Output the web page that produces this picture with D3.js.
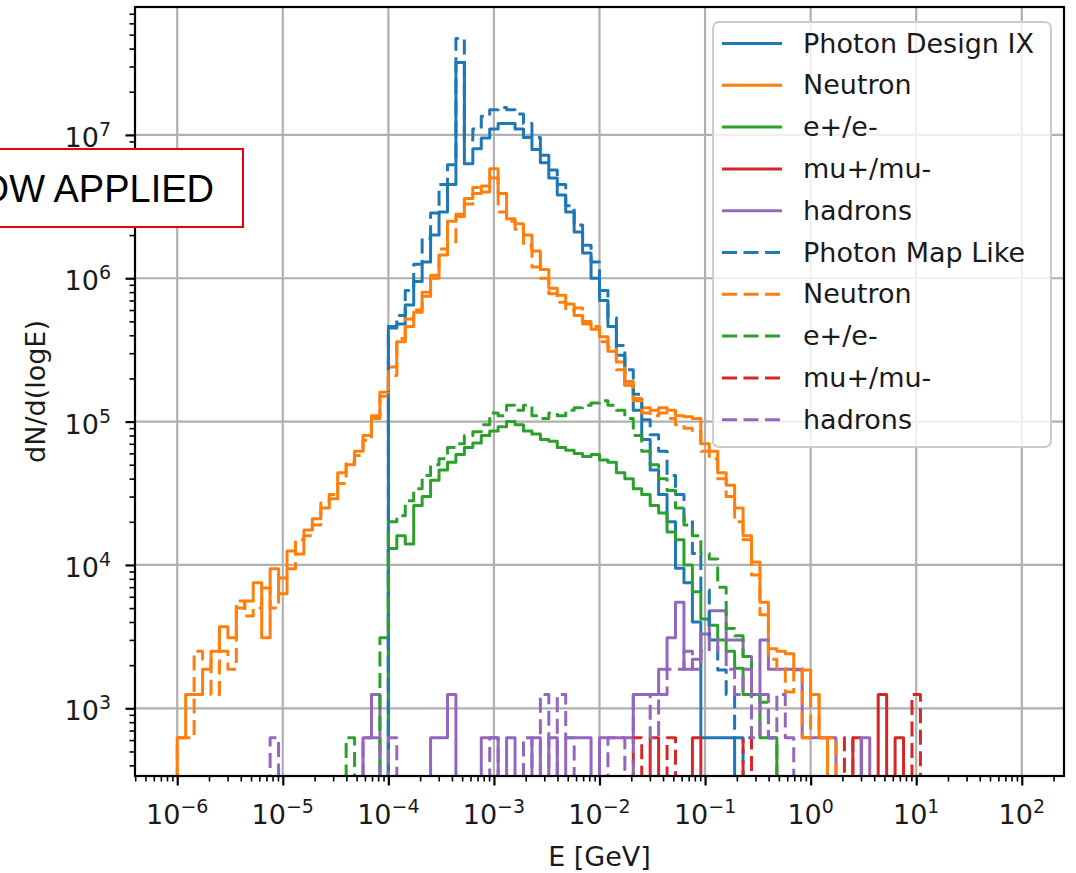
<!DOCTYPE html>
<html><head><meta charset="utf-8">
<script src="https://cdn.jsdelivr.net/npm/d3@7"></script>
<style>
html,body{margin:0;padding:0;background:#fff;}
svg{display:block;font-family:"DejaVu Sans",sans-serif;}
</style></head><body>
<svg id="chart" width="1076" height="873"></svg>
<script>
// Histogram binning: log-spaced bins in E [GeV]
const binLogMin = -6, binLogMax = 2, binCount = 100;

const xTickExponents = [-6, -5, -4, -3, -2, -1, 0, 1, 2];
const yTickExponents = [3, 4, 5, 6, 7];

// Dense series: first bin index + dN/d(logE) per bin
const photonIXStart = 25;
const photonIX = [4.6e5, 4.8e5, 6.5e5, 9.5e5, 1.3e6, 2.0e6, 2.9e6, 4.5e6, 3.2e7, 6.3e6,
  8.0e6, 9.5e6, 1.1e7, 1.2e7, 1.2e7, 1.1e7, 9.6e6, 7.9e6, 6.4e6, 5.0e6,
  3.8e6, 2.9e6, 2.1e6, 1.5e6, 1.0e6, 7.0e5, 4.6e5, 2.9e5, 1.8e5, 1.2e5,
  7.5e4, 4.6e4, 3.1e4, 2.0e4, 9.5e3, 7.5e3, 4.0e3, 624, 624, 624, 624];

const photonMapStart = 25;
const photonMap = [4.5e5, 5.5e5, 8.2e5, 1.25e6, 1.9e6, 2.85e6, 4.5e6, 6.2e6, 4.7e7, 9.2e6,
  1.1e7, 1.35e7, 1.5e7, 1.55e7, 1.5e7, 1.4e7, 1.2e7, 9.6e6, 7.2e6, 5.7e6,
  4.5e6, 3.2e6, 2.35e6, 1.7e6, 1.3e6, 8.2e5, 5.3e5, 3.4e5, 2.3e5, 1.55e5,
  1.03e5, 8.1e4, 6.2e4, 4.2e4, 3.1e4, 2.05e4, 1.2e4, 6.7e3, 3.0e3, 1.85e3,
  1.25e3, 624];

const neutronIXStart = 0;
const neutronIX = [624, 1250, 1250, 1870, 2500, 3700, 3100, 5000, 5600, 7500,
  3100, 9400, 6300, 12500, 11900, 17500, 21000, 25000, 29000, 44000,
  50000, 62000, 80000, 110000, 160000, 2.4e5, 3.6e5, 4.6e5, 5.8e5, 8.0e5,
  1.05e6, 1.45e6, 2.5e6, 2.8e6, 3.6e6, 3.9e6, 4.4e6, 5.8e6, 3.9e6, 2.6e6,
  2.4e6, 2.0e6, 1.55e6, 1.15e6, 8.5e5, 7.6e5, 6.6e5, 5.5e5, 5.0e5, 4.4e5,
  3.9e5, 3.1e5, 2.6e5, 1.8e5, 1.45e5, 1.25e5, 1.2e5, 1.25e5, 1.2e5, 1.1e5,
  1.08e5, 1.05e5, 7.0e4, 6.2e4, 4.4e4, 3.6e4, 2.5e4, 1.6e4, 1.05e4, 5.5e3,
  2.6e3, 2.5e3, 2.4e3, 1.85e3, 1.85e3, 1.25e3, 624];

const neutronMapStart = 0;
const neutronMap = [624, 624, 2500, 2200, 1250, 2500, 1870, 5600, 4400, 5000,
  6900, 5000, 8100, 9400, 15000, 16000, 19000, 27000, 31000, 37000,
  52000, 58000, 74000, 105000, 150000, 2.1e5, 3.8e5, 5.2e5, 6.0e5, 7.5e5,
  1.0e6, 1.6e6, 1.8e6, 2.7e6, 3.3e6, 4.3e6, 4.0e6, 5.0e6, 2.9e6, 2.5e6,
  2.2e6, 1.7e6, 1.2e6, 1.0e6, 7.8e5, 6.8e5, 6.0e5, 6.2e5, 4.8e5, 4.6e5,
  3.6e5, 3.3e5, 2.3e5, 1.9e5, 1.4e5, 1.15e5, 1.1e5, 1.15e5, 1.05e5, 9.5e4,
  9.0e4, 8.5e4, 6.2e4, 5.5e4, 4.0e4, 3.0e4, 2.0e4, 1.5e4, 8.5e3, 4.5e3,
  2.2e3, 1.9e3, 1.3e3, 1.9e3, 624, 1250, 624, 624];

const electronIXStart = 25;
const electronIX = [1.3e4, 1.6e4, 1.4e4, 2.6e4, 3.0e4, 3.9e4, 4.6e4, 5.2e4, 5.9e4, 6.6e4,
  7.1e4, 8.0e4, 8.6e4, 9.2e4, 1.0e5, 9.5e4, 8.6e4, 8.2e4, 7.5e4, 7.3e4,
  6.6e4, 6.3e4, 6.0e4, 5.7e4, 5.9e4, 5.4e4, 5.2e4, 4.4e4, 4.0e4, 3.4e4,
  3.1e4, 2.6e4, 2.3e4, 1.7e4, 1.5e4, 1.0e4, 6.5e3, 4.2e3, 3.8e3, 3.0e3,
  2.5e3, 1.9e3, 1.25e3, 1.25e3, 624, 624];

const electronMapStart = 20;
const electronMap = [624, 0, 0, 0, 3100, 2.0e4, 2.2e4, 2.8e4, 3.4e4, 4.2e4,
  5.0e4, 5.5e4, 6.6e4, 7.0e4, 8.0e4, 8.5e4, 9.5e4, 1.15e5, 1.1e5, 1.3e5,
  1.2e5, 1.3e5, 1.1e5, 1.05e5, 1.15e5, 1.1e5, 1.2e5, 1.25e5, 1.3e5, 1.35e5,
  1.4e5, 1.3e5, 1.2e5, 1.05e5, 8.0e4, 6.2e4, 5.0e4, 4.0e4, 3.3e4, 2.5e4,
  1.9e4, 1.6e4, 1.2e4, 1.1e4, 7.0e3, 3.6e3, 3.2e3, 2.3e3, 1.25e3, 1.1e3, 624];

// Sparse series: [bin index, dN/d(logE)]
const muonIX = [[56, 624], [61, 624], [80, 624], [83, 1250], [85, 624]];
const muonMap = [[54, 624], [58, 624], [67, 624], [79, 624], [87, 1250]];

const hadronIX = [[22, 624], [23, 1250], [30, 624], [31, 624], [32, 1250], [36, 624], [37, 624],
  [39, 624], [42, 624], [44, 624], [46, 624], [47, 624], [48, 624], [50, 624], [51, 624],
  [52, 624], [53, 624], [54, 1250], [55, 1250], [56, 1250], [57, 1870], [58, 3100],
  [59, 5500], [60, 1870], [61, 2200], [62, 3300], [63, 4800], [64, 4800], [65, 3000],
  [66, 3000], [67, 2300], [68, 1250], [69, 3000], [70, 1870], [71, 1870], [72, 1870],
  [73, 1870], [74, 624], [75, 624], [76, 624], [77, 624], [81, 624]];
const hadronMap = [[11, 624], [22, 624], [23, 624], [25, 624], [37, 624], [41, 624], [43, 1250],
  [45, 1250], [46, 624], [51, 624], [52, 624], [54, 1250], [55, 1250], [56, 624], [57, 1250],
  [58, 1870], [59, 1870], [60, 2500], [61, 1870], [62, 2500], [63, 3100], [64, 2500],
  [65, 1870], [66, 1250], [67, 1870], [68, 624], [69, 1250], [70, 624], [71, 1250], [72, 624]];

const legendLabels = ["Photon Design IX", "Neutron", "e+/e-", "mu+/mu-", "hadrons",
  "Photon Map Like", "Neutron", "e+/e-", "mu+/mu-", "hadrons"];
const colors = ["#1f77b4", "#ff7f0e", "#2ca02c", "#d62728", "#9467bd"];

// ---- helpers to expand series to the full bin grid
function dense(start, vals) {
  const a = new Array(binCount).fill(0);
  vals.forEach((v, i) => { a[start + i] = v; });
  return a;
}
function sparse(pairs) {
  const a = new Array(binCount).fill(0);
  pairs.forEach(([i, v]) => { a[i] = v; });
  return a;
}

const series = [
  dense(photonIXStart, photonIX), dense(neutronIXStart, neutronIX), dense(electronIXStart, electronIX),
  sparse(muonIX), sparse(hadronIX),
  dense(photonMapStart, photonMap), dense(neutronMapStart, neutronMap), dense(electronMapStart, electronMap),
  sparse(muonMap), sparse(hadronMap)
].map((vals, i) => ({ vals, color: colors[i % 5], dashed: i >= 5, label: legendLabels[i] }));

const edges = d3.range(binCount + 1).map(i => Math.pow(10, binLogMin + (binLogMax - binLogMin) * i / binCount));

// ---- layout
const L = 135, R = 1064, T = 7, B = 776;
const pad = 0.05 * (binLogMax - binLogMin);
const x = d3.scaleLog().domain([Math.pow(10, binLogMin - pad), Math.pow(10, binLogMax + pad)]).range([L, R]);
const y = d3.scaleLog().domain([337, 7.8e7]).range([B, T]);

const svg = d3.select("#chart");
svg.append("defs").append("clipPath").attr("id", "plotClip")
  .append("rect").attr("x", L).attr("y", T).attr("width", R - L).attr("height", B - T);

// gridlines
const grid = svg.append("g");
xTickExponents.forEach(e => {
  const px = x(Math.pow(10, e));
  grid.append("line").attr("x1", px).attr("x2", px).attr("y1", T).attr("y2", B)
    .attr("stroke", "#b0b0b0").attr("stroke-width", 2.2);
});
yTickExponents.forEach(e => {
  const py = y(Math.pow(10, e));
  grid.append("line").attr("x1", L).attr("x2", R).attr("y1", py).attr("y2", py)
    .attr("stroke", "#b0b0b0").attr("stroke-width", 2.2);
});

// step outlines
const line = d3.line().x(d => x(d[0])).y(d => d[1] > 0 ? y(d[1]) : B + 200);
function stepPoints(vals) {
  const pts = [[edges[0], 0]];
  vals.forEach((v, i) => { pts.push([edges[i], v]); pts.push([edges[i + 1], v]); });
  pts.push([edges[binCount], 0]);
  return pts;
}
const plot = svg.append("g").attr("clip-path", "url(#plotClip)");
series.forEach(s => {
  plot.append("path").attr("d", line(stepPoints(s.vals)))
    .attr("fill", "none").attr("stroke", s.color).attr("stroke-width", 3)
    .attr("stroke-linejoin", "round")
    .attr("stroke-dasharray", s.dashed ? "15,6.5" : null);
});

// axes ticks
const xMinor = [], yMinor = [];
for (let e = -7; e <= 2; e++) for (let m = 2; m <= 9; m++) {
  const v = m * Math.pow(10, e);
  if (v > x.domain()[0] && v < x.domain()[1]) xMinor.push(v);
}
for (let e = 2; e <= 7; e++) for (let m = 2; m <= 9; m++) {
  const v = m * Math.pow(10, e);
  if (v > y.domain()[0] && v < y.domain()[1]) yMinor.push(v);
}
const xMajor = xTickExponents.map(e => Math.pow(10, e));
const yMajor = yTickExponents.map(e => Math.pow(10, e));

function styleAxis(g, w) {
  g.select(".domain").remove();
  g.selectAll(".tick line").attr("stroke", "#000").attr("stroke-width", w);
  g.selectAll(".tick text").remove();
}
svg.append("g").attr("transform", `translate(0,${B})`)
  .call(d3.axisBottom(x).tickValues(xMinor).tickSize(5.5).tickFormat(() => "")).call(g => styleAxis(g, 1.6));
svg.append("g").attr("transform", `translate(0,${B})`)
  .call(d3.axisBottom(x).tickValues(xMajor).tickSize(9.5).tickFormat(() => "")).call(g => styleAxis(g, 2.2));
svg.append("g").attr("transform", `translate(${L},0)`)
  .call(d3.axisLeft(y).tickValues(yMinor).tickSize(5.5).tickFormat(() => "")).call(g => styleAxis(g, 1.6));
svg.append("g").attr("transform", `translate(${L},0)`)
  .call(d3.axisLeft(y).tickValues(yMajor).tickSize(9.5).tickFormat(() => "")).call(g => styleAxis(g, 2.2));

// tick labels as 10^n
function powLabel(g, px, py, exp, anchor) {
  const t = g.append("text").attr("x", px).attr("y", py).attr("text-anchor", anchor)
    .attr("font-size", 27).attr("fill", "#1a1a1a");
  t.append("tspan").text("10");
  t.append("tspan").attr("font-size", 19).attr("dy", -11).text(String(exp).replace("-", "\u2212"));
}
const labels = svg.append("g");
xTickExponents.forEach(e => powLabel(labels, x(Math.pow(10, e)), 824, e, "middle"));
yTickExponents.forEach(e => powLabel(labels, 111, y(Math.pow(10, e)) + 12, e, "end"));

// frame
svg.append("rect").attr("x", L).attr("y", T).attr("width", R - L).attr("height", B - T)
  .attr("fill", "none").attr("stroke", "#000").attr("stroke-width", 2.2);

// axis titles
svg.append("text").attr("x", (L + R) / 2).attr("y", 866).attr("text-anchor", "middle")
  .attr("font-size", 27).attr("fill", "#1a1a1a").text("E [GeV]");
svg.append("text").attr("transform", `translate(45,${(T + B) / 2}) rotate(-90)`)
  .attr("text-anchor", "middle").attr("font-size", 27).attr("fill", "#1a1a1a").text("dN/d(logE)");

// legend
const lg = svg.append("g");
lg.append("rect").attr("x", 713).attr("y", 22).attr("width", 338).attr("height", 425).attr("rx", 6)
  .attr("fill", "#fff").attr("fill-opacity", 0.8).attr("stroke", "#cccccc").attr("stroke-width", 2);
series.forEach((s, i) => {
  const cy = 43.5 + i * 41.8;
  lg.append("line").attr("x1", 722).attr("x2", 782).attr("y1", cy).attr("y2", cy)
    .attr("stroke", s.color).attr("stroke-width", 3)
    .attr("stroke-dasharray", s.dashed ? "15,6.5" : null);
  lg.append("text").attr("x", 803).attr("y", cy + 9).attr("font-size", 27).attr("fill", "#1a1a1a").text(s.label);
});

// overlaid note box
const note = svg.append("g");
note.append("rect").attr("x", -10).attr("y", 149).attr("width", 253).attr("height", 78)
  .attr("fill", "#fff").attr("stroke", "#e8000b").attr("stroke-width", 2);
note.append("text").attr("x", 214).attr("y", 202).attr("text-anchor", "end")
  .attr("font-family", "Liberation Sans, Arial, sans-serif").attr("font-size", 38).attr("fill", "#000")
  .text("OW APPLIED");
</script>
</body></html>
